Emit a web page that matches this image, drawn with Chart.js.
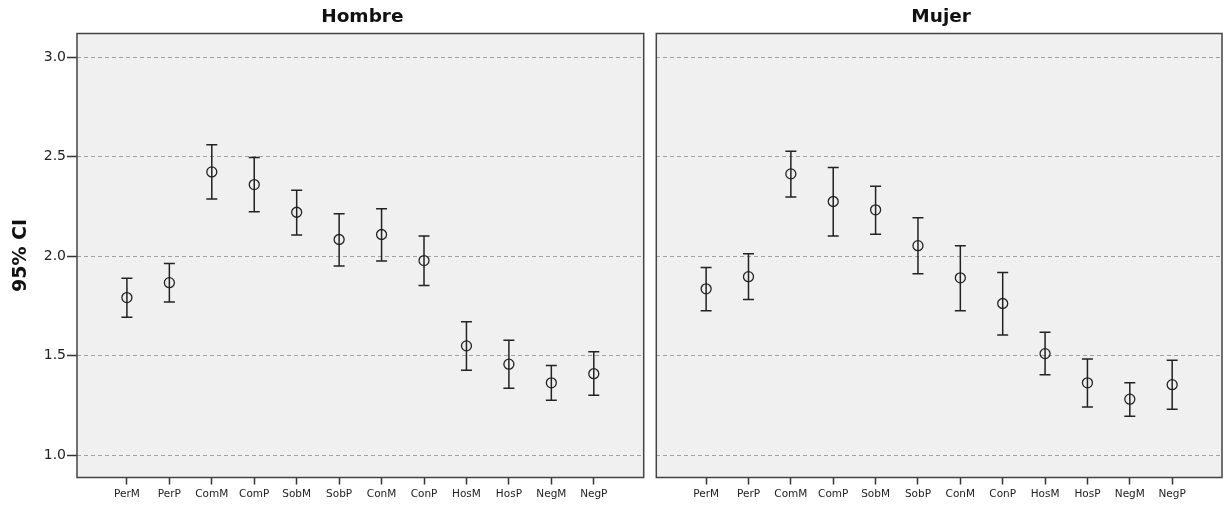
<!DOCTYPE html>
<html><head><meta charset="utf-8">
<script src="https://cdn.jsdelivr.net/npm/chart.js@4"></script>
<style>
html,body{margin:0;padding:0;background:#fff;width:1230px;height:514px;overflow:hidden}
#c1{position:absolute;left:0;top:0}
#c2{position:absolute;left:650px;top:0}
</style></head><body>
<canvas id="c1" width="650" height="514"></canvas>
<canvas id="c2" width="580" height="514"></canvas>
<script>
const categories = ['PerM','PerP','ComM','ComP','SobM','SobP','ConM','ConP','HosM','HosP','NegM','NegP'];
const panelTitles = ['Hombre','Mujer'];
const yAxisTitle = '95% CI';
const yTicks = [1.0, 1.5, 2.0, 2.5, 3.0];

const hombreMean  = [1.792, 1.867, 2.424, 2.360, 2.221, 2.084, 2.109, 1.978, 1.549, 1.457, 1.363, 1.409];
const hombreLower = [1.693, 1.770, 2.288, 2.224, 2.107, 1.951, 1.976, 1.852, 1.427, 1.336, 1.276, 1.301];
const hombreUpper = [1.889, 1.963, 2.560, 2.496, 2.332, 2.214, 2.239, 2.102, 1.670, 1.577, 1.450, 1.519];

const mujerMean  = [1.836, 1.897, 2.414, 2.275, 2.233, 2.053, 1.891, 1.762, 1.510, 1.363, 1.281, 1.354];
const mujerLower = [1.726, 1.782, 2.298, 2.101, 2.111, 1.912, 1.726, 1.604, 1.404, 1.242, 1.195, 1.230];
const mujerUpper = [1.943, 2.012, 2.528, 2.446, 2.352, 2.193, 2.052, 1.918, 1.618, 1.483, 1.363, 1.477];

Chart.defaults.font.family = "'DejaVu Sans', sans-serif";
Chart.defaults.color = '#222';

const panelPlugin = {
  id: 'panel',
  beforeDraw(chart, args, opts) {
    const {ctx, chartArea: a} = chart;
    ctx.save();
    ctx.fillStyle = '#f0f0f0';
    ctx.fillRect(a.left, a.top, a.right - a.left, a.bottom - a.top);
    ctx.restore();
  },
  beforeDatasetsDraw(chart, args, opts) {
    const {ctx} = chart;
    const xs = chart.scales.x, ys = chart.scales.y;
    ctx.save();
    ctx.strokeStyle = '#222';
    ctx.lineWidth = 1.5;
    opts.lower.forEach((lo, i) => {
      const hi = opts.upper[i];
      const x = xs.getPixelForValue(i);
      const y1 = ys.getPixelForValue(lo), y2 = ys.getPixelForValue(hi);
      ctx.beginPath();
      ctx.moveTo(x, y1); ctx.lineTo(x, y2);
      ctx.moveTo(x - 5.5, y1); ctx.lineTo(x + 5.5, y1);
      ctx.moveTo(x - 5.5, y2); ctx.lineTo(x + 5.5, y2);
      ctx.stroke();
    });
    ctx.restore();
  },
  afterDraw(chart, args, opts) {
    const {ctx, chartArea: a} = chart;
    ctx.save();
    ctx.strokeStyle = '#444';
    ctx.lineWidth = 1.5;
    ctx.strokeRect(a.left, a.top, a.right - a.left, a.bottom - a.top);
    ctx.fillStyle = '#111';
    ctx.font = "bold 18.5px 'DejaVu Sans'";
    ctx.textAlign = 'center';
    ctx.textBaseline = 'middle';
    ctx.fillText(opts.title, (a.left + a.right) / 2 + 2, 17);
    ctx.restore();
  }
};

function makeChart(id, title, mean, lower, upper, showY) {
  return new Chart(document.getElementById(id), {
    type: 'scatter',
    data: {
      datasets: [{
        data: mean.map((m, i) => ({x: i, y: m})),
        pointStyle: 'circle',
        pointRadius: 5,
        pointHoverRadius: 5,
        pointBorderWidth: 1.3,
        borderColor: '#222',
        backgroundColor: 'rgba(0,0,0,0)',
        showLine: false
      }]
    },
    options: {
      responsive: false,
      animation: false,
      events: [],
      layout: {padding: showY ? {top: 33.5, right: 6, left: 0, bottom: 0} : {top: 33.5, right: 8, left: 5, bottom: 0}},
      plugins: {
        legend: {display: false},
        tooltip: {enabled: false},
        panel: {title: title, lower: lower, upper: upper}
      },
      scales: {
        x: {
          type: 'linear',
          min: -1.176,
          max: categories.length - 1 + 1.176,
          afterBuildTicks: s => { s.ticks = categories.map((c, i) => ({value: i})); },
          afterFit: s => { s.height = 36.5; },
          grid: {drawOnChartArea: false, drawTicks: true, tickLength: 7, tickColor: '#333', tickWidth: 1.5},
          border: {display: false},
          ticks: {
            autoSkip: false, maxRotation: 0, padding: 3,
            font: {size: 10.5}, color: '#222',
            callback: v => categories[v]
          }
        },
        y: {
          type: 'linear',
          min: 0.887,
          max: 3.12,
          afterBuildTicks: s => { s.ticks = yTicks.map(v => ({value: v})); },
          afterFit: s => { s.width = showY ? 77 : 0; },
          grid: {color: '#a0a0a0', lineWidth: 1, drawTicks: showY, tickLength: 10, tickColor: '#333', tickWidth: 1.5, tickBorderDash: []},
          border: {display: false, dash: [4, 3]},
          ticks: {
            display: showY, padding: 1,
            font: {size: 14}, color: '#222',
            callback: v => v.toFixed(1)
          },
          title: {
            display: showY, text: yAxisTitle,
            font: {size: 19, weight: 'bold'}, color: '#111',
            padding: {top: 10, bottom: 0}
          }
        }
      }
    },
    plugins: [panelPlugin]
  });
}

makeChart('c1', panelTitles[0], hombreMean, hombreLower, hombreUpper, true);
makeChart('c2', panelTitles[1], mujerMean, mujerLower, mujerUpper, false);
</script>
</body></html>
